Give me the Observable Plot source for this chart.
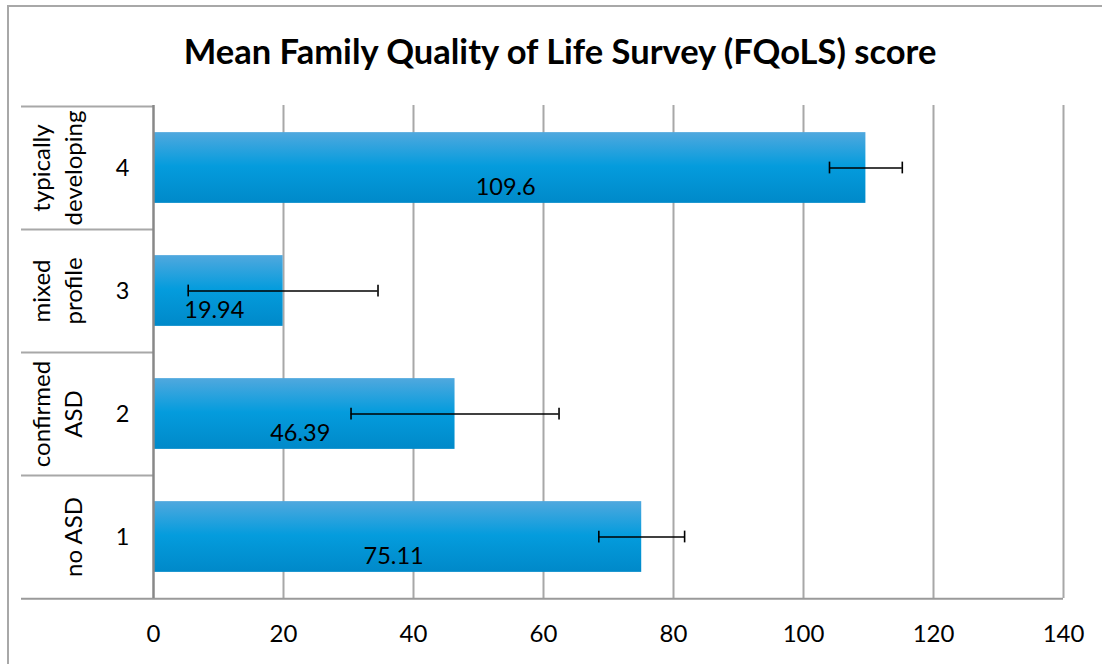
<!DOCTYPE html>
<html>
<head>
<meta charset="utf-8">
<script src="https://cdn.jsdelivr.net/npm/d3@7"></script>
<script src="https://cdn.jsdelivr.net/npm/@observablehq/plot@0.6"></script>
<style>
  html, body { margin: 0; padding: 0; width: 1102px; height: 664px; overflow: hidden; background: #fff; }
  #border { position: absolute; left: 7px; top: 5px; width: 2000px; height: 2000px; border: 2px solid #a8a8a8; box-sizing: border-box; }
  #title { position: absolute; left: 0; top: 0; width: 1120px; height: 90px; text-align: center; font-family: Lato, "Open Sans", sans-serif; font-weight: bold; font-size: 34.5px; line-height: 102px; color: #000; }
  #chart { position: absolute; left: 0; top: 90px; }
</style>
</head>
<body>
<div id="border"></div>
<div id="title">Mean Family Quality of Life Survey (FQoLS) score</div>
<div id="chart"></div>
<script>
const codes = ["1", "2", "3", "4"];
const groups = ["no ASD", "confirmed\nASD", "mixed\nprofile", "typically\ndeveloping"];
const means = [75.11, 46.39, 19.94, 109.6];
const errors = [6.6, 16.0, 14.6, 5.6];
const valueLabels = ["75.11", "46.39", "19.94", "109.6"];
const xTicks = [0, 20, 40, 60, 80, 100, 120, 140];

const data = codes.map((c, i) => ({
  code: c, group: groups[i], mean: means[i],
  lo: means[i] - errors[i], hi: means[i] + errors[i], label: valueLabels[i]
}));

const W = 1102, H = 574, mt = 15, mb = 66, ml = 153, mr = 39;
const step = (H - mt - mb) / codes.length;
const barInset = (step - 71) / 2;
const capInset = (step - 12) / 2;
const font = "Lato, 'Open Sans', sans-serif";

const defs = () => {
  const d = d3.create("svg:defs");
  const g = d.append("linearGradient").attr("id", "barGrad").attr("x1", 0).attr("y1", 0).attr("x2", 0).attr("y2", 1);
  g.append("stop").attr("offset", "0%").attr("stop-color", "#50a8de");
  g.append("stop").attr("offset", "48%").attr("stop-color", "#049cdd");
  g.append("stop").attr("offset", "100%").attr("stop-color", "#0089c9");
  return d.node();
};

const chart = Plot.plot({
  width: W, height: H,
  marginTop: mt, marginBottom: mb, marginLeft: ml, marginRight: mr,
  style: { fontFamily: font, background: "transparent", overflow: "visible" },
  x: { domain: [0, 140], ticks: xTicks },
  y: { domain: ["4", "3", "2", "1"], padding: 0, axis: null },
  marks: [
    defs,
    Plot.ruleX(xTicks.slice(1), { stroke: "#a8a8a8", strokeWidth: 2 }),
    // left category separators
    Plot.ruleY(data, { y: "code", x1: 0, x2: 0, dy: -step / 2, insetLeft: -132, stroke: "#a8a8a8", strokeWidth: 2 }),
    // bottom line
    Plot.ruleY(data.filter(d => d.code === "1"), { y: "code", dy: step / 2, insetLeft: -132, stroke: "#9a9a9a", strokeWidth: 2 }),
    Plot.barX(data, { y: "code", x: "mean", fill: "url(#barGrad)", insetTop: barInset, insetBottom: barInset }),
    Plot.ruleX([0], { stroke: "#888888", strokeWidth: 2.5 }),
    Plot.ruleY(data, { y: "code", x1: "lo", x2: "hi", stroke: "#000", strokeWidth: 1.6 }),
    Plot.tickX(data, { y: "code", x: "lo", stroke: "#000", strokeWidth: 1.6, insetTop: capInset, insetBottom: capInset }),
    Plot.tickX(data, { y: "code", x: "hi", stroke: "#000", strokeWidth: 1.6, insetTop: capInset, insetBottom: capInset }),
    Plot.text(data, { y: "code", x: d => d.mean / 2, text: "label", dx: -4, dy: 19, fontSize: 23.5, fill: "#000" }),
    Plot.text(data, { y: "code", text: "code", frameAnchor: "left", dx: -31, fontSize: 23.5, fill: "#000", textAnchor: "middle" }),
    Plot.text(data, { y: "code", text: "group", frameAnchor: "left", dx: -72, rotate: -90, lineAnchor: "bottom", lineHeight: 1.33, fontSize: 24, fill: "#000", textAnchor: "middle" }),
    Plot.axisX({ ticks: xTicks, tickSize: 0, tickPadding: 26, fontSize: 24, color: "#000", tickFormat: d => String(d) })
  ]
});
document.getElementById("chart").appendChild(chart);
</script>
</body>
</html>
